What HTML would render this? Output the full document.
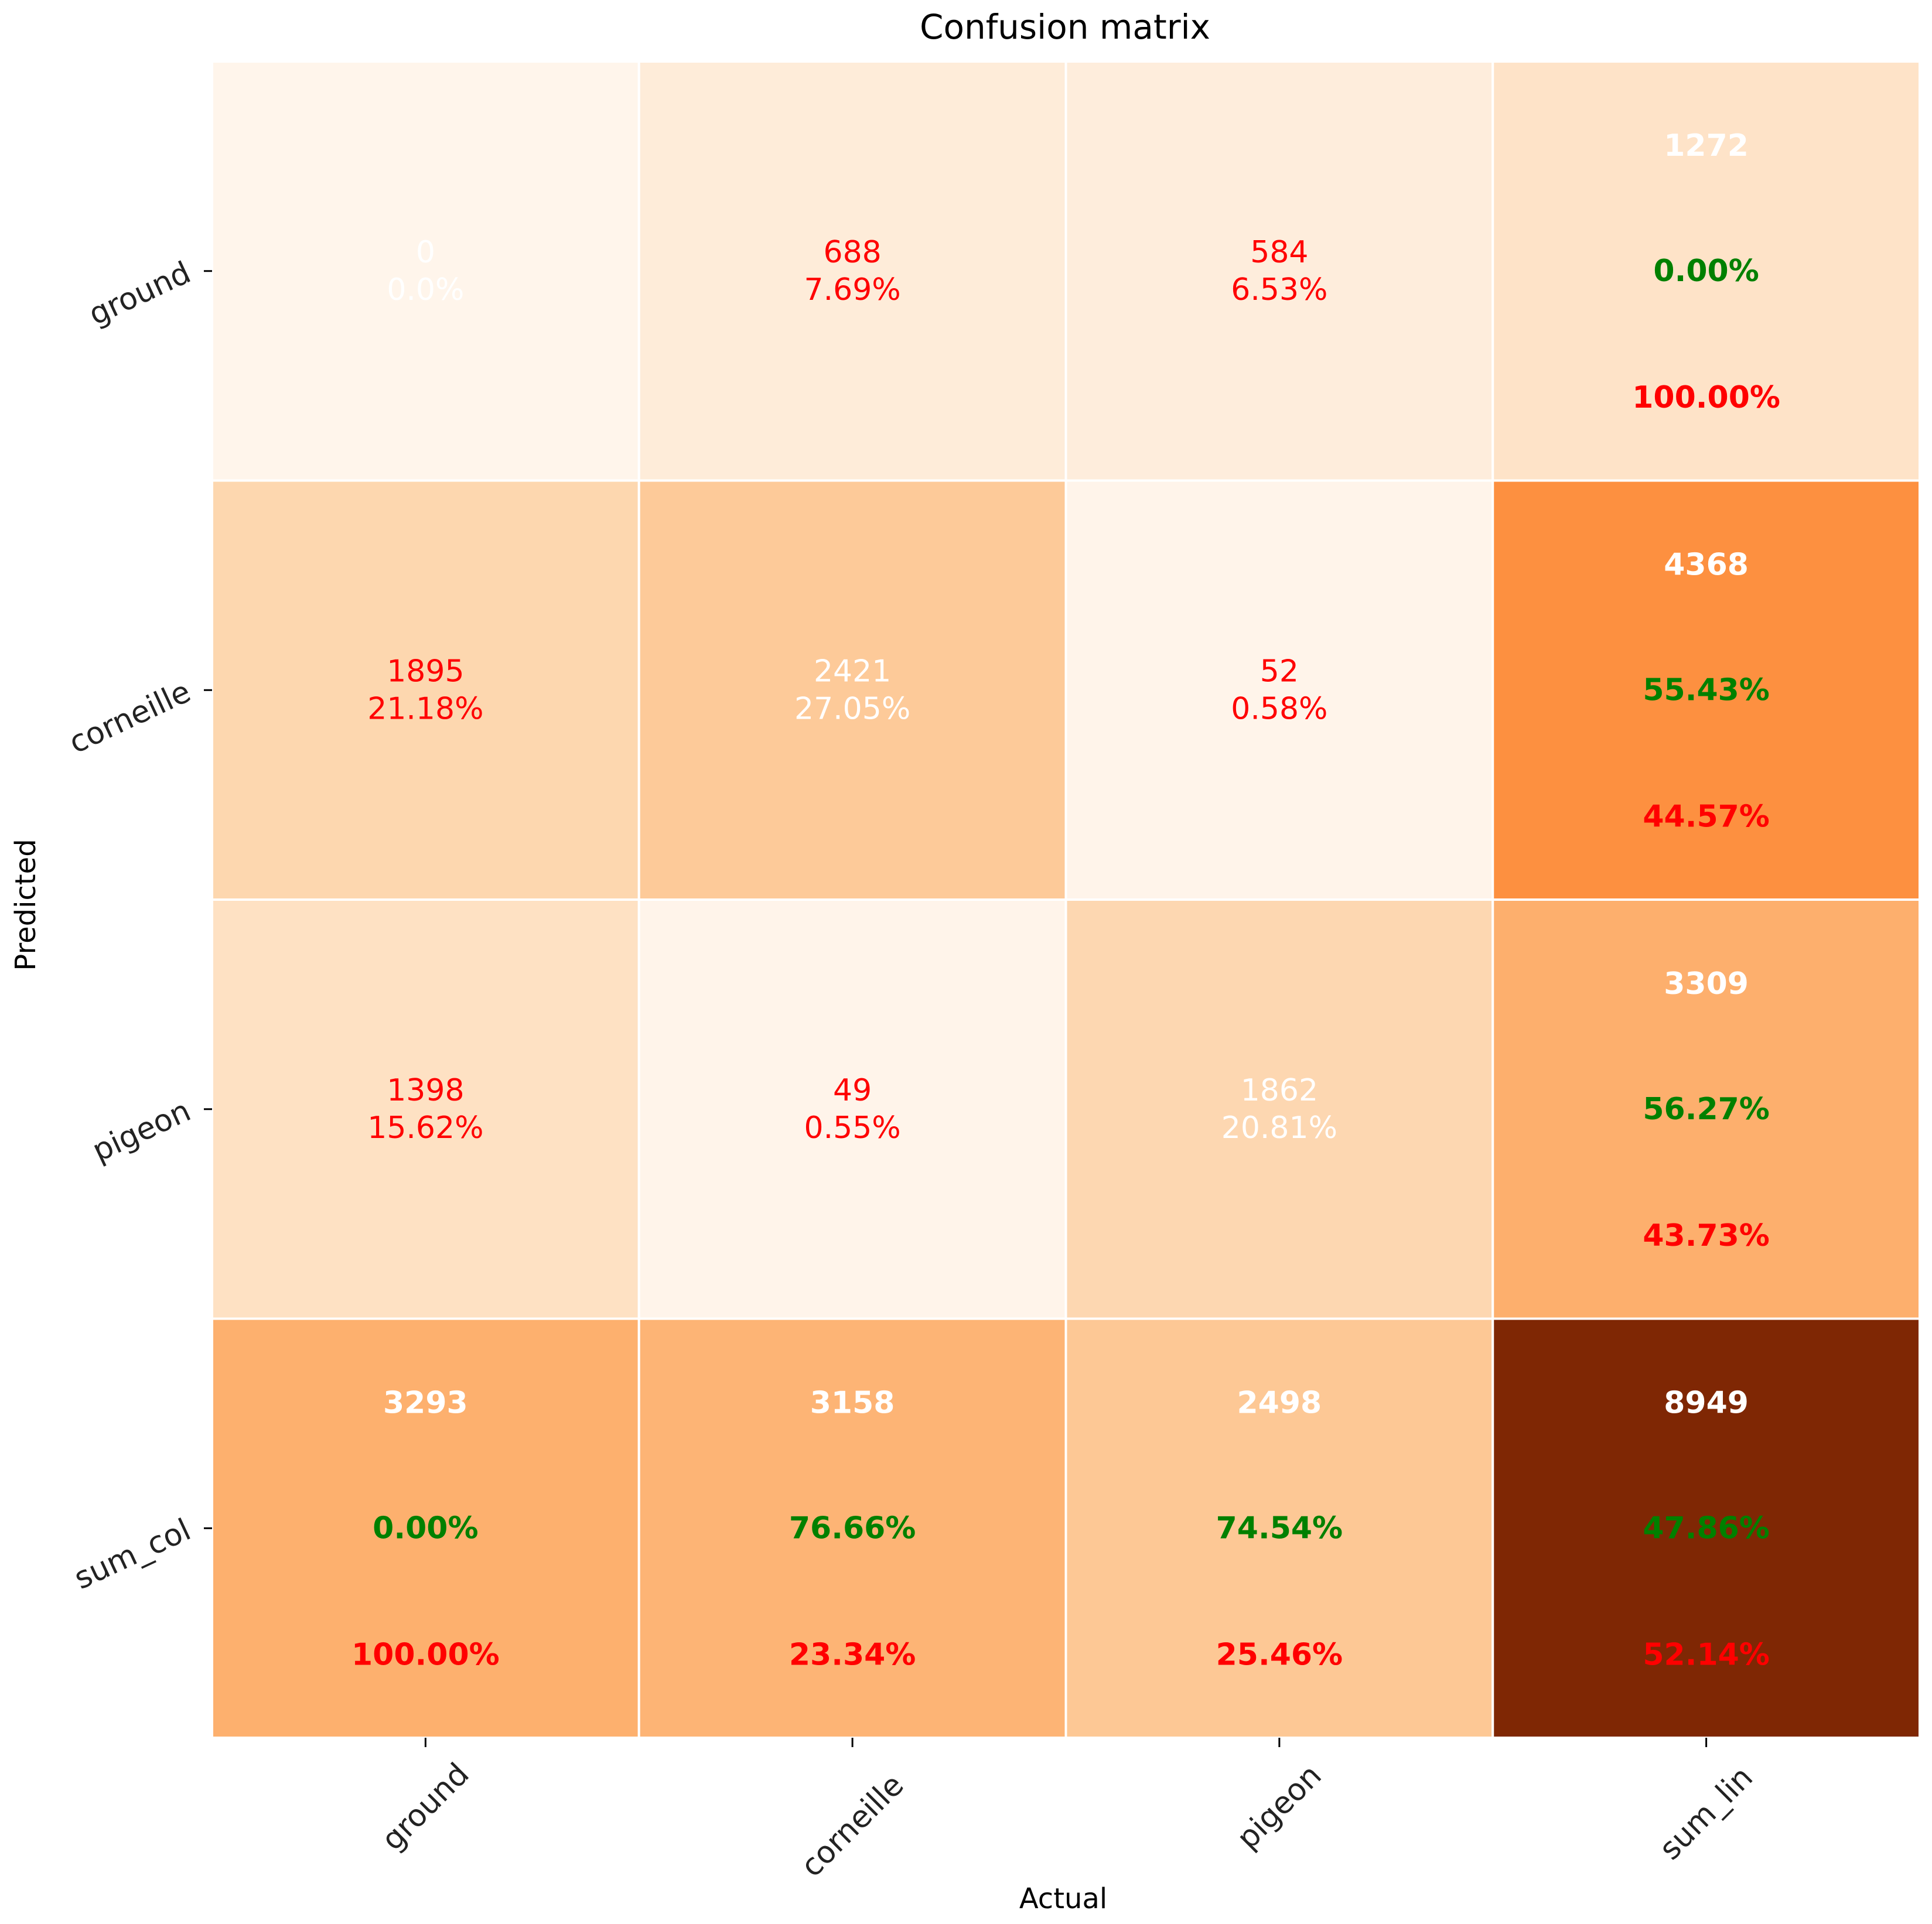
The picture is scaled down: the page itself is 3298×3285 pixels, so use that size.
<!DOCTYPE html>
<html><head><meta charset="utf-8">
<style>
html,body{margin:0;padding:0;background:#fff;}
svg{display:block;font-family:"DejaVu Sans","Liberation Sans",sans-serif;}
</style></head>
<body>
<svg id="chart" width="3298" height="3285" viewBox="0 0 3298 3285" xmlns="http://www.w3.org/2000/svg">
<text x="1818" y="66" font-size="58" text-anchor="middle" fill="#000">Confusion matrix</text>
<text transform="translate(60,1545) rotate(-90)" font-size="48" text-anchor="middle" fill="#000">Predicted</text>
<text x="1815" y="3258" font-size="48" text-anchor="middle" fill="#000">Actual</text>
<g id="cells"></g>
</svg>
<script>
const rowLabels = ["ground","corneille","pigeon","sum_col"];
const colLabels = ["ground","corneille","pigeon","sum_lin"];
const counts = [
  [0, 688, 584, 1272],
  [1895, 2421, 52, 4368],
  [1398, 49, 1862, 3309],
  [3293, 3158, 2498, 8949]
];
const cellPcts = [
  ["0.0%","7.69%","6.53%"],
  ["21.18%","27.05%","0.58%"],
  ["15.62%","0.55%","20.81%"]
];
const rowGood = ["0.00%","55.43%","56.27%"];
const rowBad = ["100.00%","44.57%","43.73%"];
const colGood = ["0.00%","76.66%","74.54%","47.86%"];
const colBad = ["100.00%","23.34%","25.46%","52.14%"];

const svg = document.getElementById('chart');
const g = document.getElementById('cells');
const NS = "http://www.w3.org/2000/svg";
const X0 = 362, X1 = 3277, Y0 = 105, Y1 = 2967;
const n = colLabels.length;
const cw = (X1 - X0) / n, ch = (Y1 - Y0) / n;
const xPos = i => X0 + i * cw;
const yPos = j => Y0 + j * ch;
const vmax = Math.max(...counts.flat());
const stops = ["#fff5eb","#fee6ce","#fdd0a2","#fdae6b","#fd8d3c","#f16913","#d94801","#a63603","#7f2704"];
function hex(h){return [1,3,5].map(k=>parseInt(h.substr(k,2),16));}
function cmap(v){
  let t = Math.max(0, Math.min(1, v / vmax)) * (stops.length - 1);
  let i = Math.min(Math.floor(t), stops.length - 2), f = t - i;
  const a = hex(stops[i]), b = hex(stops[i+1]);
  return "rgb(" + a.map((c,k)=>Math.round(c + (b[k]-c)*f)).join(",") + ")";
}
function txt(x,y,s,color,bold,name){
  const t = document.createElementNS(NS,'text');
  t.setAttribute('x',x); t.setAttribute('y',y);
  t.setAttribute('font-size','52');
  t.setAttribute('text-anchor','middle');
  t.setAttribute('dominant-baseline','central');
  t.setAttribute('fill',color);
  if(bold) t.setAttribute('font-weight','bold');
  t.textContent = s;
  
  
  g.appendChild(t);
}
for(let r=0;r<n;r++){
  for(let c=0;c<n;c++){
    const rect = document.createElementNS(NS,'rect');
    rect.setAttribute('x', xPos(c)); rect.setAttribute('y', yPos(r));
    rect.setAttribute('width', cw); rect.setAttribute('height', ch);
    rect.setAttribute('fill', cmap(counts[r][c]));
    rect.setAttribute('stroke','#fff'); rect.setAttribute('stroke-width','4');
    
    
    g.appendChild(rect);
    const cx = xPos(c) + cw/2, cy = yPos(r) + ch/2;
    const isSum = (r === n-1) || (c === n-1);
    if(!isSum){
      const col = (r === c) ? "#ffffff" : "#ff0000";
      txt(cx, cy - 32, String(counts[r][c]), col, false, 'cell-count');
      txt(cx, cy + 32, cellPcts[r][c], col, false, 'cell-percent');
    } else {
      const good = (r === n-1) ? colGood[c] : rowGood[r];
      const bad = (r === n-1) ? colBad[c] : rowBad[r];
      txt(cx, cy - 214, String(counts[r][c]), "#ffffff", true, 'total-count');
      txt(cx, cy, good, "#008000", true, 'total-correct-percent');
      txt(cx, cy + 216, bad, "#ff0000", true, 'total-error-percent');
    }
  }
}
// y ticks and labels
for(let r=0;r<n;r++){
  const cy = yPos(r) + ch/2;
  const tk = document.createElementNS(NS,'line');
  tk.setAttribute('x1', X0-14); tk.setAttribute('x2', X0); tk.setAttribute('y1', cy); tk.setAttribute('y2', cy);
  tk.setAttribute('stroke','#000'); tk.setAttribute('stroke-width','3');
  
  
  svg.appendChild(tk);
  const t = document.createElementNS(NS,'text');
  t.setAttribute('transform','translate(' + (X0-40) + ',' + cy + ') rotate(-25)');
  t.setAttribute('font-size','52'); t.setAttribute('text-anchor','end');
  t.setAttribute('dominant-baseline','central'); t.setAttribute('fill','#222');
  t.textContent = rowLabels[r];
  
  
  svg.appendChild(t);
}
// x ticks and labels
for(let c=0;c<n;c++){
  const cx = xPos(c) + cw/2;
  const tk = document.createElementNS(NS,'line');
  tk.setAttribute('x1', cx); tk.setAttribute('x2', cx); tk.setAttribute('y1', Y1); tk.setAttribute('y2', Y1+16);
  tk.setAttribute('stroke','#000'); tk.setAttribute('stroke-width','3');
  
  
  svg.appendChild(tk);
  const len = colLabels[c].length * 0.58 * 52;
  const half = (len + 52) * 0.707 / 2;
  const t = document.createElementNS(NS,'text');
  t.setAttribute('transform','translate(' + cx + ',' + (Y1 + 36 + half) + ') rotate(-45)');
  t.setAttribute('font-size','52'); t.setAttribute('text-anchor','middle');
  t.setAttribute('dominant-baseline','central'); t.setAttribute('fill','#222');
  t.textContent = colLabels[c];
  
  
  svg.appendChild(t);
}
</script>
</body></html>
